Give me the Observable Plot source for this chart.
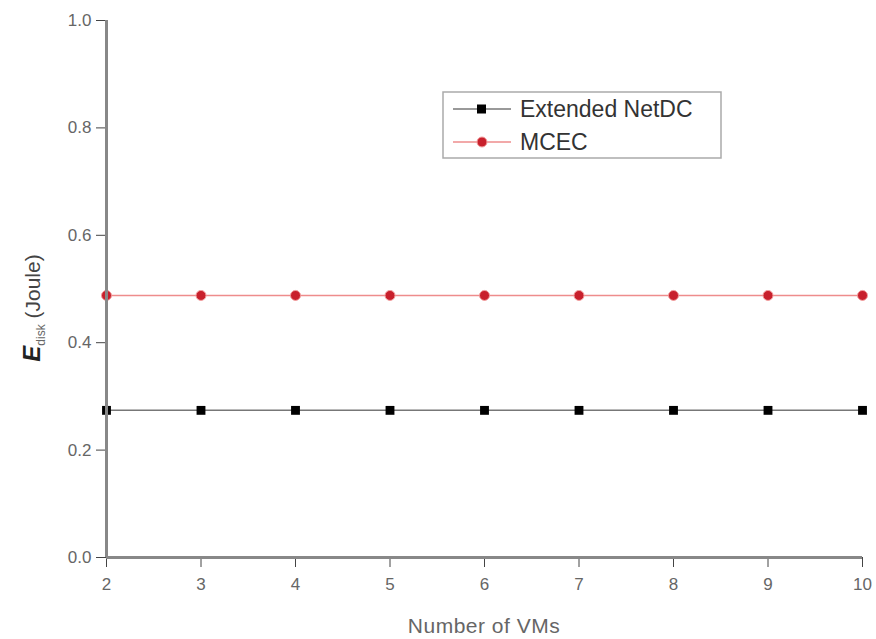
<!DOCTYPE html>
<html><head><meta charset="utf-8">
<script src="https://cdn.jsdelivr.net/npm/d3@7"></script>
<script src="https://cdn.jsdelivr.net/npm/@observablehq/plot@0.6"></script>
<style>body{margin:0;background:#fff}svg{font-family:"Liberation Sans",Arial,sans-serif}</style>
</head><body><div id="chart"></div>
<script>
const vms = [2, 3, 4, 5, 6, 7, 8, 9, 10];
const extendedNetDC = [0.274, 0.274, 0.274, 0.274, 0.274, 0.274, 0.274, 0.274, 0.274];
const mcec = [0.488, 0.488, 0.488, 0.488, 0.488, 0.488, 0.488, 0.488, 0.488];
const yTicks = [0.0, 0.2, 0.4, 0.6, 0.8, 1.0];
const seriesNames = ["Extended NetDC", "MCEC"];
const xTitle = "Number of VMs";

const dataA = vms.map((v, i) => ({x: v, y: extendedNetDC[i]}));
const dataB = vms.map((v, i) => ({x: v, y: mcec[i]}));

const plot = Plot.plot({
  width: 876, height: 639,
  marginLeft: 106, marginRight: 14, marginTop: 20, marginBottom: 82,
  style: {fontSize: "17px", color: "#666", background: "#fff"},
  x: {domain: [2, 10], label: null},
  y: {domain: [0, 1], label: null},
  marks: [
    Plot.axisX({ticks: vms, tickSize: 10, tickPadding: 10, stroke: "#444", fill: "#666", fontSize: 17, label: null}),
    Plot.axisY({ticks: yTicks, tickSize: 10, tickPadding: 5, stroke: "#444", fill: "#666", fontSize: 17, tickFormat: d3.format(".1f"), label: null}),
    Plot.lineY(dataB, {x: "x", y: "y", stroke: "#ee8c8c", strokeWidth: 1.5}),
    Plot.dot(dataB, {x: "x", y: "y", r: 5, fill: "#c8202c", stroke: "#f3a0a0", strokeWidth: 1}),
    Plot.lineY(dataA, {x: "x", y: "y", stroke: "#777", strokeWidth: 1.5}),
    Plot.dot(dataA, {x: "x", y: "y", symbol: "square", r: 5, fill: "#000", stroke: "none"}),
    Plot.ruleX([2], {stroke: "#888", strokeWidth: 3}),
    Plot.ruleY([0], {stroke: "#888", strokeWidth: 3})
  ]
});
document.getElementById("chart").appendChild(plot);

const svg = d3.select(plot);
const xs = plot.scale("x");
// X axis title
svg.append("text")
  .attr("x", (xs.range[0] + xs.range[1]) / 2).attr("y", 633)
  .attr("text-anchor", "middle").attr("font-size", 21).attr("fill", "#666")
  .attr("letter-spacing", "0.5px")
  .text(xTitle);

// Y axis title with subscript
const t = svg.append("text")
  .attr("transform", "translate(40,308) rotate(-90)")
  .attr("text-anchor", "middle")
  .attr("font-size", 21)
  .attr("fill", "#333");
t.append("tspan").text("E").attr("font-style", "italic").attr("font-weight", "bold").attr("font-size", 24).attr("fill", "#222");
t.append("tspan").text("disk").attr("font-size", 12).attr("dy", 5).attr("fill", "#666");
t.append("tspan").text(" (Joule)").attr("dy", -5).attr("fill", "#444");

// Legend
const lg = svg.append("g").attr("transform", "translate(443,92)").attr("text-anchor", "start");
lg.append("rect").attr("width", 278).attr("height", 66).attr("fill", "#fff").attr("stroke", "#aaa").attr("stroke-width", 1.5);
const styles = [{line: "#777", fill: "#000", sym: "square"}, {line: "#ee8c8c", fill: "#c8202c", sym: "circle"}];
seriesNames.forEach((name, i) => {
  const y = 17 + i * 33;
  const g = lg.append("g").attr("transform", `translate(0,${y})`);
  g.append("line").attr("x1", 10).attr("x2", 68).attr("stroke", styles[i].line).attr("stroke-width", 1.5);
  if (styles[i].sym === "square") g.append("rect").attr("x", 34).attr("y", -4.5).attr("width", 9).attr("height", 9).attr("fill", styles[i].fill);
  else g.append("circle").attr("cx", 39).attr("r", 5).attr("fill", styles[i].fill).attr("stroke", "#f3a0a0");
  g.append("text").attr("x", 77).attr("dy", "0.36em").attr("font-size", 23).attr("fill", "#333").text(name);
});
</script></body></html>
